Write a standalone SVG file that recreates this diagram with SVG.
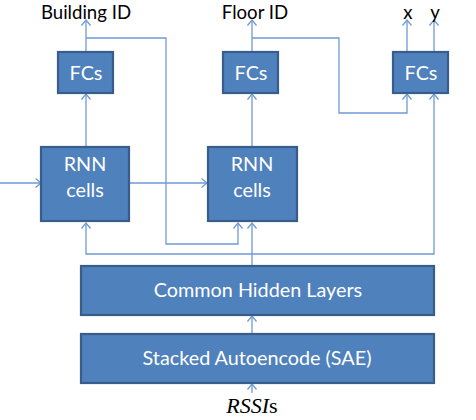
<svg xmlns="http://www.w3.org/2000/svg" width="476" height="420" viewBox="0 0 476 420">
<defs>
<marker id="arr" markerUnits="userSpaceOnUse" markerWidth="10" markerHeight="12" viewBox="-7 -6 9 12" refX="0" refY="0" orient="auto">
<path d="M-5.5,-4.5 L0,0 L-5.5,4.5" fill="none" stroke="#6F9AD3" stroke-width="1.3"/>
</marker>
</defs>
<style>
.box{fill:#4F81BD;stroke:#385D8A;stroke-width:2.2}
.bt{font-family:Lato,"Open Sans",sans-serif;font-size:19.8px;fill:#FFFFFF;text-anchor:middle}
.lt{font-family:Lato,"Open Sans",sans-serif;font-size:18.6px;fill:#000000;text-anchor:middle}
.c{fill:none;stroke:#6F9AD3;stroke-width:1.3;marker-end:url(#arr)}
</style>
<rect width="476" height="420" fill="#FFFFFF"/>
<g id="connectors">
<path class="c" d="M86,52 V20"/>
<path class="c" d="M86,38 H166 V244 H238 V223"/>
<path class="c" d="M86,147 V94"/>
<path class="c" d="M252,52 V20"/>
<path class="c" d="M252,38 H339 V113 H407 V94"/>
<path class="c" d="M252,147 V94"/>
<path class="c" d="M407,52 V20"/>
<path class="c" d="M434,52 V20"/>
<path class="c" d="M252,266 V223"/>
<path class="c" d="M252,254 H86 V223"/>
<path class="c" d="M252,254 H434 V94"/>
<path class="c" d="M129,183 H207"/>
<path class="c" d="M0,183 H41"/>
<path class="c" d="M252,334 V316"/>
<path class="c" d="M252,393 V384"/>
</g>
<g id="label-building"><text class="lt" x="86" y="18.5">Building ID</text></g>
<g id="label-floor"><text class="lt" x="255" y="18.5">Floor ID</text></g>
<g id="label-x"><text class="lt" x="408" y="18.5">x</text></g>
<g id="label-y"><text class="lt" x="435" y="18.5">y</text></g>
<g id="fcs1"><rect class="box" x="58" y="52" width="55" height="41"/><text class="bt" x="86" y="80">FCs</text></g>
<g id="fcs2"><rect class="box" x="223" y="52" width="55" height="41"/><text class="bt" x="251" y="80">FCs</text></g>
<g id="fcs3"><rect class="box" x="393" y="52" width="55" height="41"/><text class="bt" x="421" y="80">FCs</text></g>
<g id="rnn1"><rect class="box" x="41" y="147" width="88" height="74"/><text class="bt" x="85" y="171">RNN</text><text class="bt" x="85" y="197">cells</text></g>
<g id="rnn2"><rect class="box" x="208" y="147" width="89" height="74"/><text class="bt" x="252" y="171">RNN</text><text class="bt" x="252" y="197">cells</text></g>
<g id="common"><rect class="box" x="81" y="266" width="353" height="49"/><text class="bt" x="258" y="297">Common Hidden Layers</text></g>
<g id="sae"><rect class="box" x="81" y="334" width="353" height="49"/><text class="bt" x="257" y="365">Stacked Autoencode (SAE)</text></g>
<g id="rssis"><text x="252" y="413" font-family="'Liberation Serif',serif" font-size="22" text-anchor="middle" fill="#000000"><tspan font-style="italic">RSSI</tspan>s</text></g>
</svg>
